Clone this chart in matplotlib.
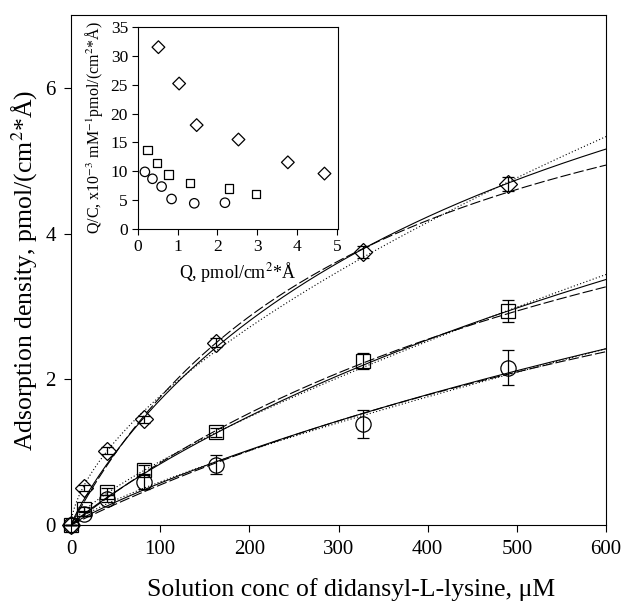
import numpy as np
import matplotlib
matplotlib.use("Agg")
import matplotlib.pyplot as plt

plt.rcParams['font.family'] = ['Liberation Serif', 'DejaVu Serif']
plt.rcParams['mathtext.fontset'] = 'stix'
plt.rcParams['lines.scale_dashes'] = False

# adsorption isotherm data (conc in uM, Q in pmol/(cm2*A))
conc = [0, 15, 40, 82, 163, 327, 490]
q_diamond = [0, 0.51, 1.02, 1.45, 2.50, 3.75, 4.68]
q_square = [0, 0.22, 0.46, 0.76, 1.27, 2.25, 2.94]
q_circle = [0, 0.15, 0.36, 0.59, 0.83, 1.39, 2.16]
err_diamond = [0, 0.04, 0.05, 0.05, 0.06, 0.08, 0.10]
err_square = [0, 0.03, 0.05, 0.06, 0.06, 0.11, 0.15]
err_circle = [0, 0.03, 0.05, 0.10, 0.13, 0.19, 0.24]

# fitted isotherm parameters: Sips (Qm, K, n), Langmuir (Qm, K), Freundlich (K, n)
sips_params = [(10.3, 0.001674, 0.90), (12.0, 0.0005997, 0.92), (12.0, 0.0003613, 0.90)]
langmuir_params = [(7.755, 0.002925), (7.52, 0.001282), (7.1, 0.00084)]
freundlich_params = [(0.1043, 0.615), (0.02577, 0.765), (0.01595, 0.785)]

# Scatchard-type inset: Q vs Q/C (x10^-3 mM^-1 pmol/(cm2*A))
inset_q_diamond = [0.52, 1.04, 1.48, 2.53, 3.77, 4.69]
inset_qc_diamond = [31.5, 25.2, 18.0, 15.5, 11.55, 9.6]
inset_q_square = [0.24, 0.48, 0.78, 1.31, 2.29, 2.97]
inset_qc_square = [13.7, 11.4, 9.4, 8.0, 7.05, 6.1]
inset_q_circle = [0.18, 0.37, 0.60, 0.85, 1.42, 2.19]
inset_qc_circle = [9.9, 8.7, 7.35, 5.2, 4.45, 4.55]


def sips(c, qm, k, n):
    x = (k * c) ** n
    return qm * x / (1 + x)


def langmuir(c, qm, k):
    return qm * k * c / (1 + k * c)


def freundlich(c, k, n):
    return k * c ** n


fig = plt.figure(figsize=(6.24, 6.05), dpi=100)
ax = fig.add_axes([0.1138, 0.1322, 0.8574, 0.8430])

c_fit = np.linspace(0, 600, 400)
long_dash = (0, (7.5, 2.2))
dotted = (0, (0.8, 1.6))
for i in range(3):
    ax.plot(c_fit, sips(c_fit, *sips_params[i]), color='black', lw=0.8)
    ax.plot(c_fit, langmuir(c_fit, *langmuir_params[i]), color='black', lw=0.8, linestyle=long_dash)
    ax.plot(c_fit, freundlich(c_fit, *freundlich_params[i]), color='black', lw=0.8, linestyle=dotted)

series = [(q_diamond, err_diamond, 'D', 9.5),
          (q_square, err_square, 's', 10),
          (q_circle, err_circle, 'o', 11)]
for q, err, marker, ms in series:
    ax.errorbar(conc, q, yerr=err, fmt=marker, ms=ms, mfc='none', mec='black', mew=0.9,
                ecolor='black', elinewidth=0.9, capsize=4, capthick=0.9, clip_on=False, zorder=3)

ax.set_xlim(0, 600)
ax.set_ylim(0, 7)
ax.set_xticks(range(0, 601, 100))
ax.set_yticks([0, 2, 4, 6])
ax.tick_params(direction='out', length=5, width=0.8, labelsize=15, pad=6)
for sp in ax.spines.values():
    sp.set_linewidth(0.8)
ax.set_xlabel('Solution conc of didansyl-L-lysine, \u03bcM', fontsize=18.5)
ax.xaxis.set_label_coords(0.523, -0.103, transform=ax.transAxes)
ax.set_ylabel('Adsorption density, pmol/(cm$^2$*\u00c5)', fontsize=18.5, labelpad=4)

# inset
ins = fig.add_axes([0.2207, 0.6215, 0.321, 0.3339])
ins.scatter(inset_q_diamond, inset_qc_diamond, marker='D', s=42, facecolors='none', edgecolors='black', linewidths=0.9)
ins.scatter(inset_q_square, inset_qc_square, marker='s', s=38, facecolors='none', edgecolors='black', linewidths=0.9)
ins.scatter(inset_q_circle, inset_qc_circle, marker='o', s=46, facecolors='none', edgecolors='black', linewidths=0.9)
ins.set_xlim(0, 5.03)
ins.set_ylim(0, 35)
ins.set_xticks(range(0, 6))
ins.set_yticks(range(0, 36, 5))
ins.tick_params(direction='out', length=4, width=0.8, labelsize=12.5, pad=3)
for sp in ins.spines.values():
    sp.set_linewidth(0.8)
ins.set_xlabel('Q, pmol/cm$^2$*\u00c5', fontsize=13, labelpad=4)
ins.set_ylabel('Q/C, x10$^{-3}$ mM$^{-1}$pmol/(cm$^2$*\u00c5)', fontsize=11.5, labelpad=4)

fig.savefig('out.png', dpi=100)
